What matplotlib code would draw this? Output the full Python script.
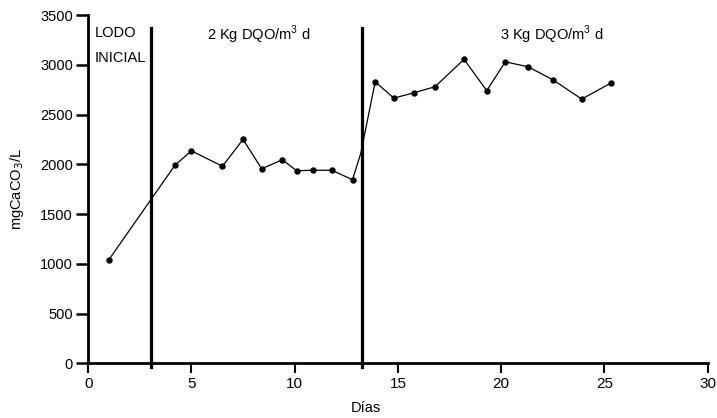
import matplotlib
matplotlib.use("Agg")
import matplotlib.pyplot as plt

plt.rcParams['font.family'] = ['Liberation Sans', 'DejaVu Sans']

# dias y alcalinidad (mgCaCO3/L)
dias = [1.0, 4.2, 5.0, 6.5, 7.5, 8.4, 9.4, 10.1, 10.9, 11.8, 12.8, 13.2,
        13.9, 14.8, 15.8, 16.8, 18.2, 19.3, 20.2, 21.3, 22.5, 23.9, 25.3]
alcalinidad = [1040, 1990, 2135, 1980, 2250, 1955, 2045, 1935, 1940, 1940, 1845, 2110,
               2830, 2665, 2720, 2780, 3055, 2740, 3030, 2980, 2850, 2655, 2815]

cambios = [3.05, 13.25]
etiquetas = ["LODO\nINICIAL", "2 Kg DQO/m$^{\\mathregular{3}}$ d", "3 Kg DQO/m$^{\\mathregular{3}}$ d"]
x_etiquetas = [0.32, 5.75, 19.95]

fig = plt.figure(figsize=(7.17, 4.18), dpi=100)
ax = fig.add_axes([0.123, 0.131, 0.864, 0.833])

# el punto que queda bajo la linea vertical no lleva marcador visible
marcas = [i for i in range(len(dias)) if i != 11]
ax.plot(dias, alcalinidad, color='black', lw=0.9, marker='o', ms=3.6,
        markevery=marcas, zorder=2)

for c in cambios:
    ax.plot([c, c], [-40, 3370], color='black', lw=2.3, clip_on=False, zorder=3)

ax.text(x_etiquetas[0], 3385, etiquetas[0], fontsize=10.5, va='top', ha='left', linespacing=2.0)
ax.text(x_etiquetas[1], 3300, etiquetas[1], fontsize=10.5, va='center', ha='left')
ax.text(x_etiquetas[2], 3300, etiquetas[2], fontsize=10.5, va='center', ha='left')

ax.set_xlim(0, 30)
ax.set_ylim(0, 3500)
ax.set_xticks([0, 5, 10, 15, 20, 25, 30])
ax.set_yticks(range(0, 3501, 500))
ax.spines['top'].set_visible(False)
ax.spines['right'].set_visible(False)
ax.spines['left'].set_linewidth(2)
ax.spines['bottom'].set_linewidth(2)
ax.tick_params(axis='y', direction='out', length=9, width=1.8, labelsize=10.5, pad=2)
ax.tick_params(axis='x', direction='out', length=7, width=1.5, labelsize=11, pad=3)

ax.set_ylabel("mgCaCO$_3$/L", fontsize=10.5, labelpad=10)
fig.text(0.51, 0.024, "Días", fontsize=10.5, ha='center', va='center')

fig.savefig("out.png", dpi=100)
